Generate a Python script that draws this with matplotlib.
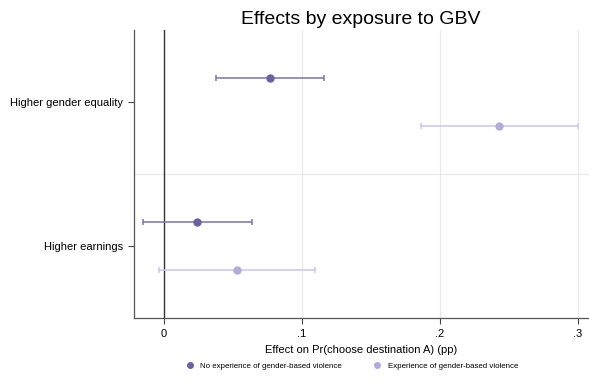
import matplotlib
matplotlib.use("Agg")
import matplotlib.pyplot as plt
import numpy as np

categories = ["Higher gender equality", "Higher earnings"]
series_names = ["No experience of gender-based violence", "Experience of gender-based violence"]
no_gbv_est = [0.0768, 0.0241]
no_gbv_lo = [0.0377, -0.0152]
no_gbv_hi = [0.1160, 0.0638]
gbv_est = [0.2430, 0.0527]
gbv_lo = [0.1860, -0.0036]
gbv_hi = [0.3000, 0.1094]
xticks = [0, 0.1, 0.2, 0.3]
xticklabels = ["0", ".1", ".2", ".3"]

plt.rcParams['font.family'] = ['Liberation Sans', 'DejaVu Sans']
fig = plt.figure(figsize=(5.89, 3.86), dpi=100)
ax = fig.add_axes([134/589, 1-318/386, (589-134)/589, (318-30)/386])

dark_line = "#7b72b6"
dark_mark = "#6a62a0"
light_line = "#cbc5f2"
light_mark = "#b2acda"

ypos = np.arange(len(categories))
off = 1/6
for est, lo, hi, lc, mc, o, name in [
    (no_gbv_est, no_gbv_lo, no_gbv_hi, dark_line, dark_mark, -off, series_names[0]),
    (gbv_est, gbv_lo, gbv_hi, light_line, light_mark, off, series_names[1]),
]:
    est = np.array(est); lo = np.array(lo); hi = np.array(hi)
    ax.errorbar(est, ypos + o, xerr=[est - lo, hi - est], fmt='none',
                ecolor=lc, elinewidth=1.1, capsize=2.5, capthick=1.1, zorder=3)
    ax.plot(est, ypos + o, 'o', color=mc, markersize=5, zorder=4, label=name)

ax.set_xlim(-0.0217, 0.308)
ax.set_ylim(1.5, -0.5)
ax.axvline(0, color="#333333", lw=1.0, zorder=2)
for x in xticks[1:]:
    ax.axvline(x, color="#e8e8e8", lw=0.8, zorder=1)
ax.axhline(0.5, color="#e8e8e8", lw=0.8, zorder=1)

ax.set_yticks(ypos)
ax.set_yticklabels(categories, fontsize=8)
ax.set_xticks(xticks)
ax.set_xticklabels(xticklabels, fontsize=8)
ax.tick_params(axis='both', length=4, width=0.8, color="#444444", pad=4)
ax.set_xlabel("Effect on Pr(choose destination A) (pp)", fontsize=8, labelpad=4)
for s in ["top", "right"]:
    ax.spines[s].set_visible(False)
for s in ["left", "bottom"]:
    ax.spines[s].set_color("#555555")
    ax.spines[s].set_linewidth(0.9)

fig.text(361/589, 1-19/386, "Effects by exposure to GBV", ha='center', va='center', fontsize=14)

leg = fig.legend(loc='center', bbox_to_anchor=(352/589, 1-366/386), ncol=2, frameon=False,
                 fontsize=5.7, markerscale=0.8, handletextpad=0.8, columnspacing=4.0, handlelength=1)

fig.savefig("out.png", dpi=100)
